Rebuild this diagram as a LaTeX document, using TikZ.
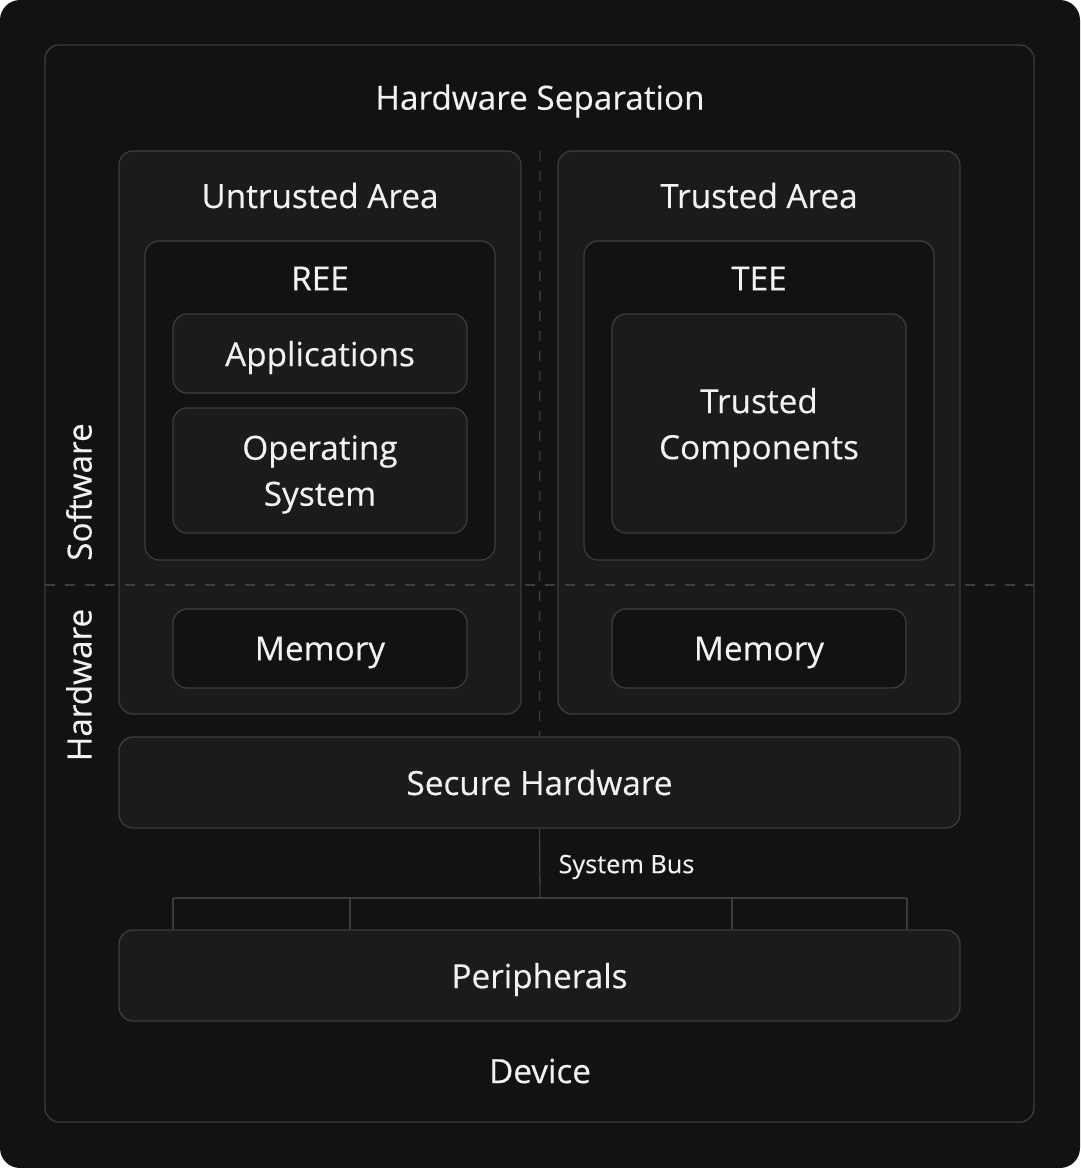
\documentclass[tikz,border=0pt]{standalone}
\usepackage{fontspec}
\setmainfont{Open Sans}[FakeBold=0.3]
\definecolor{bg}{HTML}{121212}
\definecolor{panel}{HTML}{1B1B1B}
\definecolor{edge}{HTML}{3C3C3C}
\definecolor{ink}{HTML}{F2F2F2}
\tikzset{
    every node/.style={align=center,text=ink,font=\fontsize{33.3}{46}\selectfont,},
    low/.style={yshift=-4pt,},
    area/.style={draw=edge,line width=1.3pt,rectangle,rounded corners=14pt,fill=panel,inner sep=0pt,},
    well/.style={area,fill=bg,},
    wire/.style={draw=edge,line width=1.3pt,},
    split/.style={draw=edge,line width=1.3pt,dash pattern=on 10pt off 10pt,},
}

\begin{document}
\begin{tikzpicture}[x=1pt,y=-1pt]
                \useasboundingbox (0,0) rectangle (1080,1168);
                \fill[bg,rounded corners=20pt] (0,0) rectangle (1080,1168);

                \node[area,fill=bg,minimum width=989,minimum height=1077] (device) at (539.5,583.5) {};
                \node[low] (sep_title) at (540,97) {Hardware Separation};
                \node (device_title) at (540,1071) {Device};

                \node[area,minimum width=402,minimum height=563] (untrusted) at (320,432.5) {};
                \node[area,minimum width=402,minimum height=563] (trusted) at (759,432.5) {};
                \node (untrusted_title) at (320,195.5) {Untrusted Area};
                \node (trusted_title) at (759,195.5) {Trusted Area};

                \node[well,minimum width=350,minimum height=319] (ree) at (320,400.5) {};
                \node[well,minimum width=350,minimum height=319] (tee) at (759,400.5) {};
                \node (ree_title) at (320,278.5) {REE};
                \node (tee_title) at (759,278.5) {TEE};

                \node[area,minimum width=294,minimum height=79] (apps) at (320,353.5) {};
                \node[area,minimum width=294,minimum height=125] (os) at (320,470.5) {};
                \node[area,minimum width=294,minimum height=219] (components) at (759,423.5) {};
                \node[low] (apps_text) at (apps) {Applications};
                \node[low] (os_text) at (os) {Operating\\System};
                \node[low] (components_text) at (components) {Trusted\\Components};

                \node[well,minimum width=294,minimum height=79] (mem_u) at (320,648.5) {};
                \node[well,minimum width=294,minimum height=79] (mem_t) at (759,648.5) {};
                \node[low] (mem_u_text) at (mem_u) {Memory};
                \node[low] (mem_t_text) at (mem_t) {Memory};

                \node[area,minimum width=841,minimum height=91] (secure) at (539.5,782.5) {};
                \node[area,minimum width=841,minimum height=91] (periph) at (539.5,975.5) {};
                \node (secure_text) at (secure) {Secure Hardware};
                \node[low] (periph_text) at (periph) {Peripherals};

                \node[rotate=90] (sw_label) at (79,492) {Software};
                \node[rotate=90] (hw_label) at (79,685) {Hardware};

                % separation lines
                \coordinate (split_top) at (540,151);
                \coordinate (split_left) at (45,585);
                \coordinate (split_right) at (1034,585);
                \draw[split] (split_top) -- (secure.north);
                \draw[split] (split_left) -- (split_right);

                % system bus
                \coordinate (bus) at (540,898);
                \coordinate (bus_a) at (173,898);
                \coordinate (bus_b) at (350,898);
                \coordinate (bus_c) at (732,898);
                \coordinate (bus_d) at (907,898);
                \draw[wire] (secure.south) -- (bus);
                \draw[wire] (bus_a) -- (bus_d);
                \foreach \tap in {bus_a,bus_b,bus_c,bus_d}
                    \draw[wire] (\tap) -- (\tap |- periph.north);
                \node[low,anchor=west,font=\fontsize{25.3}{30}\selectfont] (bus_label) at (555,863) {System Bus};
            \end{tikzpicture}
\end{document}
